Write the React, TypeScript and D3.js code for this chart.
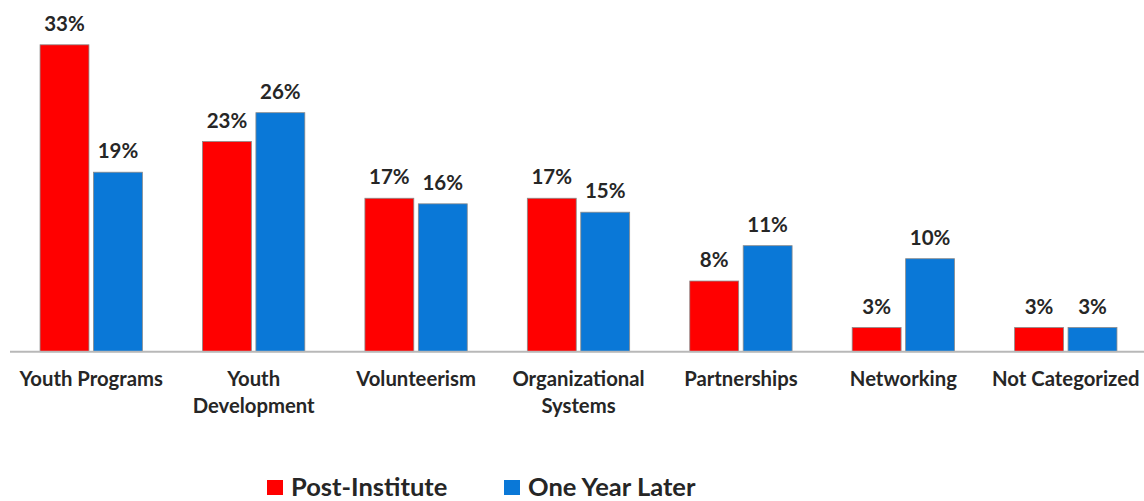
import React, { useEffect } from "react";
import * as d3 from "d3";

// Chart data
const categories = [
  ["Youth Programs"],
  ["Youth", "Development"],
  ["Volunteerism"],
  ["Organizational", "Systems"],
  ["Partnerships"],
  ["Networking"],
  ["Not Categorized"],
];
const postInstitute = [33.0, 22.6, 16.5, 16.5, 7.6, 2.6, 2.6];
const oneYearLater = [19.3, 25.7, 15.9, 15.0, 11.4, 10.0, 2.6];
const seriesNames = ["Post-Institute", "One Year Later"];
const seriesColors = ["#ff0000", "#0a78d7"];

const WIDTH = 1144;
const HEIGHT = 501;
const FONT = "Lato, 'DejaVu Sans', sans-serif";
const TEXT = "#262626";

const App = () => {
  useEffect(() => {
    document.body.style.margin = "0";
  }, []);

  const baseline = 351.7;
  const x0 = d3
    .scaleBand<number>()
    .domain(d3.range(categories.length))
    .range([10, 1147])
    .paddingInner(0.37)
    .paddingOuter(0.185);
  const x1 = d3
    .scaleBand<number>()
    .domain([0, 1])
    .range([0, x0.bandwidth()])
    .paddingInner(0.085);
  const y = d3.scaleLinear().domain([0, 35]).range([baseline, baseline - 35 * 9.3]);

  const series = [postInstitute, oneYearLater];

  return (
    <svg width={WIDTH} height={HEIGHT} style={{ display: "block" }} fontFamily={FONT}>
      {/* bars */}
      {series.map((vals, si) =>
        vals.map((v, i) => {
          const bx = (x0(i) as number) + (x1(si) as number);
          return (
            <g key={`${si}-${i}`}>
              <rect
                x={bx}
                y={y(v)}
                width={x1.bandwidth()}
                height={baseline - y(v)}
                fill={seriesColors[si]}
                stroke="#8a8a8a"
                strokeWidth={0.8}
              />
              <text
                x={bx + x1.bandwidth() / 2}
                y={y(v) - 14}
                textAnchor="middle"
                fontSize={20.5}
                fontWeight="bold"
                fill={TEXT}
              >
                {`${Math.round(v)}%`}
              </text>
            </g>
          );
        })
      )}

      {/* axis line */}
      <line x1={10} x2={1144} y1={baseline} y2={baseline} stroke="#b8b8b8" strokeWidth={2} />

      {/* category labels */}
      {categories.map((lines, i) => (
        <text
          key={i}
          x={(x0(i) as number) + x0.bandwidth() / 2}
          y={386}
          textAnchor="middle"
          fontSize={20.3}
          fontWeight="bold"
          fill={TEXT}
        >
          {lines.map((l, li) => (
            <tspan key={li} x={(x0(i) as number) + x0.bandwidth() / 2} dy={li === 0 ? 0 : 27}>
              {l}
            </tspan>
          ))}
        </text>
      ))}

      {/* legend */}
      {seriesNames.map((name, si) => {
        const lx = si === 0 ? 267 : 504;
        return (
          <g key={name}>
            <rect x={lx} y={480} width={16} height={15} fill={seriesColors[si]} />
            <text x={lx + 24} y={496} fontSize={25.5} fontWeight="bold" fill={TEXT}>
              {name}
            </text>
          </g>
        );
      })}
    </svg>
  );
};

export default App;
